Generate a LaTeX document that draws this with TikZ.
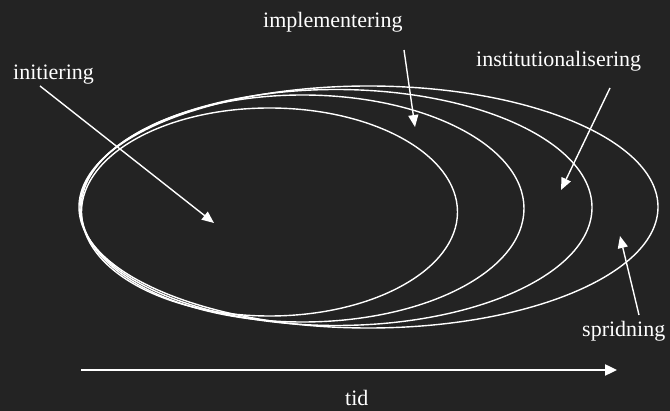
\documentclass[tikz,border=0pt]{standalone}
\usepackage{fontspec}
\setmainfont{Liberation Serif}
\usetikzlibrary{arrows.meta,shapes.geometric}
\definecolor{bg}{HTML}{232323}
\begin{document}
\begin{tikzpicture}[x=1pt,y=-1pt,
  phase/.style={draw=white,line width=1.4pt,ellipse,inner sep=0pt},
  lbl/.style={text=white,font=\fontsize{22}{24}\selectfont,anchor=base west,inner sep=0pt},
  pointer/.style={draw=white,line width=1.4pt,-{Triangle[length=12pt,width=10pt]}},
  timeline/.style={draw=white,line width=2.4pt,-{Triangle[length=12pt,width=11pt]}}]
  % background and page size
  \fill[bg] (0,0) rectangle (670,411);
  \useasboundingbox (0,0) rectangle (670,411);

  % nested phases, sharing the left edge
  \node[phase,minimum width=376pt,minimum height=208pt] (e1) at (269.5,212) {};
  \node[phase,minimum width=443pt,minimum height=227pt] (e2) at (302.5,208.5) {};
  \node[phase,minimum width=512pt,minimum height=236pt] (e3) at (336,207.5) {};
  \node[phase,minimum width=579pt,minimum height=242pt] (e4) at (368.5,207) {};

  % labels
  \node[lbl] (ini) at (13,80) {initiering};
  \node[lbl] (imp) at (263,28) {implementering};
  \node[lbl] (ins) at (476,67) {institutionalisering};
  \node[lbl] (spr) at (582,337) {spridning};
  \node[lbl] (tid) at (345,406) {tid};

  % pointer ends
  \coordinate (iniS) at (40,86);   \coordinate (iniT) at (214,223);
  \coordinate (impS) at (404,50);  \coordinate (impT) at (415,127);
  \coordinate (insS) at (610,88);  \coordinate (insT) at (561,190);
  \coordinate (sprS) at (639,315); \coordinate (sprT) at (620,236);
  \coordinate (t0) at (81,370);    \coordinate (t1) at (617,370);

  \draw[pointer] (iniS) -- (iniT);
  \draw[pointer] (impS) -- (impT);
  \draw[pointer] (insS) -- (insT);
  \draw[pointer] (sprS) -- (sprT);
  \draw[timeline] (t0) -- (t1);
\end{tikzpicture}
\end{document}
